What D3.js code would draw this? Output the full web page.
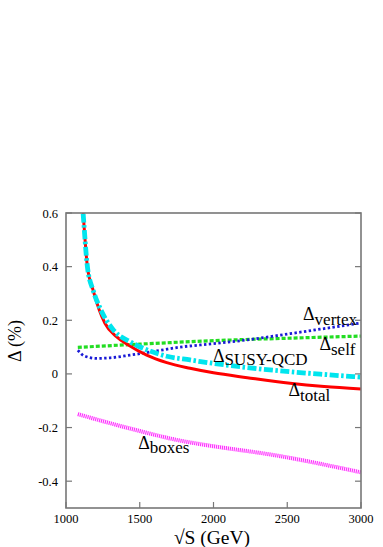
<!DOCTYPE html>
<html>
<head>
<meta charset="utf-8">
<script src="https://cdn.jsdelivr.net/npm/d3@7/dist/d3.min.js"></script>
<style>
    body { margin: 0; background: #fff; }
</style>
</head>
<body>
<svg id="chart" width="383" height="547"></svg>
<script>
// values: [sqrt(S) in GeV, delta in %]
const delta_total = [[1100, 0.72], [1116, 0.6], [1145, 0.4], [1185, 0.31], [1264, 0.189], [1340, 0.14],
    [1423, 0.108], [1547, 0.07], [1683, 0.042], [1841, 0.021], [2000, 0.004], [2229, -0.014],
    [2519, -0.035], [2750, -0.047], [3000, -0.056]];
const delta_susyqcd = [[1100, 0.72], [1116, 0.6], [1145, 0.4], [1185, 0.31], [1231, 0.245], [1321, 0.164],
    [1434, 0.12], [1547, 0.09], [1683, 0.066], [1841, 0.052], [1912, 0.046], [2225, 0.024],
    [2519, 0.008], [2750, -0.002], [3000, -0.012]];
const delta_self = [[1080, 0.099], [1500, 0.111], [2000, 0.124], [2500, 0.133], [3000, 0.141]];
const delta_vertex = [[1080, 0.088], [1095, 0.08], [1120, 0.068], [1208, 0.058], [1300, 0.06],
    [1434, 0.07], [1640, 0.088], [1773, 0.1], [1912, 0.108], [2229, 0.127], [2519, 0.15],
    [2750, 0.169], [3000, 0.19]];
const delta_boxes = [[1080, -0.15], [1500, -0.213], [1776, -0.249], [1912, -0.262], [2456, -0.307],
    [3000, -0.367]];

const x_ticks = [1000, 1500, 2000, 2500, 3000];
const y_ticks = [-0.4, -0.2, 0, 0.2, 0.4, 0.6];
const y_tick_labels = ['-0.4', '-0.2', '0', '0.2', '0.4', '0.6'];

// label anchors in data coordinates
const curve_labels = [
    { main: 'Δ', sub: 'vertex', x: 2607, y: 0.2, dy: 5 },
    { main: 'Δ', sub: 'self', x: 2718, y: 0.089, dy: 5 },
    { main: 'Δ', sub: 'SUSY-QCD', x: 1996, y: 0.043, dy: 3 },
    { main: 'Δ', sub: 'total', x: 2508, y: -0.082, dy: 5 },
    { main: 'Δ', sub: 'boxes', x: 1489, y: -0.28, dy: 4 }
];

const serif = '"Liberation Serif", "DejaVu Serif", serif';
const svg = d3.select('#chart').attr('font-family', serif);
const plot_left = 66, plot_right = 361, plot_top = 213, plot_bottom = 508;

const x_axis = d3.scaleLinear().domain([1000, 3000]).range([plot_left, plot_right]);
const y_axis = d3.scaleLinear().domain([-0.5, 0.6]).range([plot_bottom, plot_top]);

svg.append('clipPath').attr('id', 'plotclip')
    .append('rect')
    .attr('x', plot_left).attr('y', plot_top)
    .attr('width', plot_right - plot_left).attr('height', plot_bottom - plot_top);

const line = d3.line()
    .x((d) => x_axis(d[0]))
    .y((d) => y_axis(d[1]))
    .curve(d3.curveMonotoneX);

const curves = svg.append('g').attr('clip-path', 'url(#plotclip)');

const series = [
    { data: delta_boxes, color: '#ff33ff', width: 4, dash: '1.2,0.8' },
    { data: delta_self, color: '#22dd22', width: 3.2, dash: '4,2' },
    { data: delta_vertex, color: '#1a1ad6', width: 2.8, dash: '2.4,2.4' },
    { data: delta_total, color: '#ff0000', width: 3, dash: null },
    { data: delta_susyqcd, color: '#00e5ee', width: 4.8, dash: '9,2.5,2.5,2.5' }
];

series.forEach((s) => {
    curves.append('path')
        .datum(s.data)
        .attr('d', line)
        .attr('fill', 'none')
        .attr('stroke', s.color)
        .attr('stroke-width', s.width)
        .attr('stroke-dasharray', s.dash);
});

//frame
const frame_color = '#777';
svg.append('rect')
    .attr('x', plot_left).attr('y', plot_top)
    .attr('width', plot_right - plot_left).attr('height', plot_bottom - plot_top)
    .attr('fill', 'none')
    .attr('stroke', frame_color)
    .attr('stroke-width', 1.6);

//ticks
svg.append('g').selectAll('line')
    .data(x_ticks)
    .enter()
    .append('line')
    .attr('x1', (d) => x_axis(d)).attr('x2', (d) => x_axis(d))
    .attr('y1', plot_bottom).attr('y2', plot_bottom - 6)
    .attr('stroke', frame_color).attr('stroke-width', 1.2);

[plot_left, plot_right].forEach((xx) => {
    const dir = xx == plot_left ? 1 : -1;
    svg.append('g').selectAll('line')
        .data(y_ticks)
        .enter()
        .append('line')
        .attr('x1', xx).attr('x2', xx + dir * 6)
        .attr('y1', (d) => y_axis(d)).attr('y2', (d) => y_axis(d))
        .attr('stroke', frame_color).attr('stroke-width', 1.2);
});

svg.append('g').selectAll('text')
    .data(x_ticks)
    .enter()
    .append('text')
    .text((d) => d)
    .attr('x', (d) => x_axis(d))
    .attr('y', 523)
    .attr('text-anchor', 'middle')
    .style('font-size', '12.5px');

svg.append('g').selectAll('text')
    .data(y_ticks)
    .enter()
    .append('text')
    .text((d, i) => y_tick_labels[i])
    .attr('x', 58)
    .attr('y', (d) => y_axis(d) + 4.5)
    .attr('text-anchor', 'end')
    .style('font-size', '12.5px');

//axis titles
svg.append('text')
    .text('√S (GeV)')
    .attr('x', 212)
    .attr('y', 544)
    .attr('text-anchor', 'middle')
    .style('font-size', '19.5px');

svg.append('text')
    .text('Δ (%)')
    .attr('transform', 'translate(21,341) rotate(-90)')
    .attr('text-anchor', 'middle')
    .style('font-size', '18px');

//curve labels
curve_labels.forEach((l) => {
    const t = svg.append('text')
        .attr('x', x_axis(l.x))
        .attr('y', y_axis(l.y))
        .style('font-size', '18px');
    t.append('tspan').text(l.main);
    t.append('tspan').text(l.sub)
        .attr('dy', l.dy)
        .style('font-size', '17px');
});
</script>
</body>
</html>
